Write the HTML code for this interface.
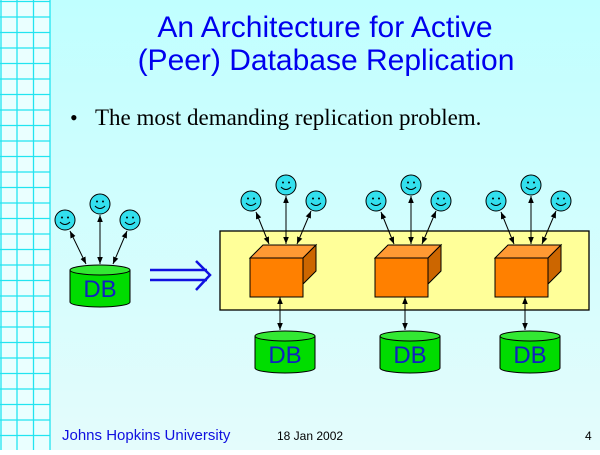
<!DOCTYPE html>
<html><head><style>
body{margin:0;width:600px;height:450px;overflow:hidden;}
svg text{font-family:"Liberation Sans",sans-serif;}
</style></head><body>
<svg width="600" height="450" xmlns="http://www.w3.org/2000/svg">
<defs>
<linearGradient id="bg" x1="0" y1="0" x2="0" y2="1"><stop offset="0" stop-color="#c0ffff"/><stop offset="1" stop-color="#e4fcfc"/></linearGradient>
<marker id="ah" viewBox="0 0 10 10" refX="10" refY="5" markerWidth="7" markerHeight="7" orient="auto-start-reverse"><path d="M0,1 L10,5 L0,9 z" fill="#000"/></marker>
<g id="face"><circle r="10" fill="#33e0ee" stroke="#000" stroke-width="1"/><circle cx="-3" cy="-2.5" r="1" fill="#000"/><circle cx="3" cy="-2.5" r="1" fill="#000"/><path d="M-5,2 Q0,7 5,2" fill="none" stroke="#000" stroke-width="1"/></g>
<g id="db"><path d="M0,5 L0,37 A30,5 0 0 0 60,37 L60,5" fill="#00dd00" stroke="#000"/><ellipse cx="30" cy="5" rx="30" ry="5" fill="#33e833" stroke="#000"/><text x="30" y="32" text-anchor="middle" font-size="24" fill="#1020c0">DB</text></g>
<g id="box"><path d="M0,13 L13,0 L66,0 L53,13 z" fill="#ff9933" stroke="#000"/><path d="M53,13 L66,0 L66,26 L53,39 z" fill="#cc6600" stroke="#000"/><rect x="0" y="13" width="53" height="39" fill="#ff8000" stroke="#000"/></g>
</defs>
<rect width="600" height="450" fill="url(#bg)"/>
<rect x="0" y="0" width="50" height="450" fill="#eaffff"/>
<g stroke="#22e4f0" stroke-width="1.3">
<line x1="1" y1="0" x2="1" y2="450"/><line x1="17" y1="0" x2="17" y2="450"/><line x1="33.5" y1="0" x2="33.5" y2="450"/><line x1="50" y1="0" x2="50" y2="450"/>
</g>
<g stroke="#22e4f0" stroke-width="1.3" id="hl"></g>
<script>
var g=document.getElementById('hl');for(var y=1.5;y<450;y+=15.5){var l=document.createElementNS('http://www.w3.org/2000/svg','line');l.setAttribute('x1',0);l.setAttribute('x2',50);l.setAttribute('y1',y);l.setAttribute('y2',y);g.appendChild(l);}
</script>
<text x="325" y="37" text-anchor="middle" font-size="30" fill="#0000ee">An Architecture for Active</text>
<text x="326" y="70" text-anchor="middle" font-size="30" fill="#0000ee">(Peer) Database Replication</text>
<text x="70" y="125" font-size="22" style="font-family:'Liberation Serif',serif">•</text>
<text x="95" y="125" font-size="23" style="font-family:'Liberation Serif',serif">The most demanding replication problem.</text>

<g stroke="#000" stroke-width="1" marker-start="url(#ah)" marker-end="url(#ah)">
<line x1="70" y1="231" x2="86" y2="264"/><line x1="100" y1="215" x2="100" y2="264"/><line x1="127" y1="231" x2="113" y2="264"/>
</g>
<use href="#face" x="65" y="220"/><use href="#face" x="100" y="204"/><use href="#face" x="130" y="220"/>
<use href="#db" x="70" y="265"/>
<g stroke="#1010e0" stroke-width="2.5" fill="none"><line x1="150" y1="270" x2="207" y2="270"/><line x1="150" y1="280" x2="207" y2="280"/><path d="M196,261 L210,275 L196,290"/></g>

<rect x="220" y="231" width="369" height="79" fill="#ffff99" stroke="#000" stroke-width="1.3"/>

<g id="grp">
<g stroke="#000" stroke-width="1" marker-start="url(#ah)" marker-end="url(#ah)">
<line x1="256" y1="212" x2="269" y2="244"/><line x1="286" y1="196" x2="286" y2="244"/><line x1="311" y1="211" x2="297" y2="244"/>
<line x1="280" y1="297" x2="280" y2="330"/>
</g>
<use href="#face" x="251" y="201"/><use href="#face" x="286" y="185"/><use href="#face" x="316" y="201"/>
<use href="#box" x="250" y="245"/>
<use href="#db" x="255" y="331"/>
</g>
<use href="#grp" x="125"/>
<use href="#grp" x="245"/>

<text x="62" y="440" font-size="15" fill="#1010e0">Johns Hopkins University</text>
<text x="277" y="440" font-size="12" fill="#000">18 Jan 2002</text>
<text x="585" y="440" font-size="12" fill="#000">4</text>
</svg>
</body></html>
